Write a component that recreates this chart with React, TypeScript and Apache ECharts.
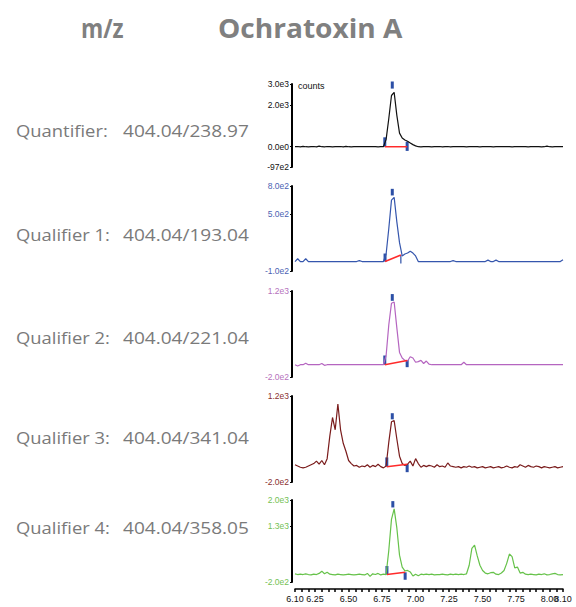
import React, { useEffect, useRef } from "react";
import * as echarts from "echarts";

// retention time grid (min)
const times = [6.10,6.12,6.14,6.16,6.18,6.20,6.22,6.24,6.26,6.28,6.30,6.32,6.34,6.36,6.38,6.40,6.42,6.44,6.46,6.48,6.50,6.52,6.54,6.56,6.58,6.60,6.62,6.64,6.66,6.68,6.70,6.72,6.74,6.76,6.78,6.80,6.82,6.84,6.86,6.88,6.90,6.92,6.94,6.96,6.98,7.00,7.02,7.04,7.06,7.08,7.10,7.12,7.14,7.16,7.18,7.20,7.22,7.24,7.26,7.28,7.30,7.32,7.34,7.36,7.38,7.40,7.42,7.44,7.46,7.48,7.50,7.52,7.54,7.56,7.58,7.60,7.62,7.64,7.66,7.68,7.70,7.72,7.74,7.76,7.78,7.80,7.82,7.84,7.86,7.88,7.90,7.92,7.94,7.96,7.98,8.00,8.02,8.04,8.06,8.08,8.10];

const quantifier = [0,10,-10,20,0,-10,0,10,-10,30, 0,-10,10,0,-10,0,0,10,-10,20, 0,-10,0,0,0,0,0,0,0,0, 0,-10,0,0,350,1350,2450,2600,1500,650, 420,320,260,180,100,40,0,-10,0,10, 0,-10,0,0,10,-10,0,10,-10,0, 0,0,0,0,-10,0,10,0,0,-10, 0,0,10,0,-10,0,0,0,10,0, 0,-10,0,0,10,0,0,-10,0,0, 10,0,-10,0,30,0,-10,0,0,10,0];
const qualifier1 = [0,30,0,0,30,0,0,0,0,0, 0,0,0,0,0,0,0,0,0,0, 0,0,0,0,10,0,0,0,0,0, 0,0,0,0,80,350,650,680,420,200, 60,80,90,110,90,60,0,0,0,0, 0,0,0,0,0,0,0,0,0,10, 0,0,0,0,0,0,0,0,0,0, 0,0,15,0,0,15,0,0,0,0, 0,0,0,0,0,0,0,0,0,0, 0,0,0,0,0,0,0,0,0,0,20];
const qualifier2 = [0,-20,0,0,25,0,0,0,0,0, 20,-10,0,0,0,0,0,0,0,0, 0,0,0,0,0,0,0,0,0,0, 0,0,0,0,150,650,1000,1020,600,200, 110,70,60,130,110,40,50,70,20,60, 10,0,0,0,0,0,0,0,0,0, 0,0,0,40,0,0,0,0,0,0, 0,0,0,0,0,0,0,0,0,0, 0,0,0,0,0,0,0,0,0,0, 0,0,0,0,0,0,0,0,0,0,0];
const qualifier3 = [80,60,40,30,40,60,80,100,140,90, 150,80,180,550,850,650,1070,650,430,300, 150,100,60,70,40,60,50,80,40,70, 50,90,50,30,60,450,780,800,500,220, 100,70,90,140,60,180,100,40,70,50, 70,60,40,80,50,60,40,110,60,50, 40,50,30,50,40,60,40,50,30,40, 50,30,40,50,30,40,50,30,40,60, 40,30,50,40,80,60,40,70,50,40, 60,50,30,50,40,30,40,50,30,40,50];
const qualifier4 = [20,0,10,0,20,0,-10,10,0,30, 90,20,60,10,0,-10,10,0,-10,0, 10,0,-10,0,10,0,-10,30,-50,20, 0,30,-10,10,0,650,1480,1760,1250,520, 200,100,110,70,-40,10,-30,10,0,10, 0,10,-10,0,0,10,0,-10,10,0, 10,0,10,0,20,250,700,790,500,250, 110,40,20,50,60,10,0,40,110,300, 550,480,180,200,40,60,10,0,10,0, -10,10,0,20,-10,0,20,30,0,-10,0];

// y-axis ranges and tick labels per trace
const yMins = [-970, -100, -200, -200, -200];
const yMaxs = [3000, 800, 1200, 1200, 2000];
const yTickValues = [[-970, 0, 2000, 3000], [-100, 500, 800], [-200, 1200], [-200, 1200], [-200, 1300, 2000]];
const yTickLabels = [["-97e2", "0.0e0", "2.0e3", "3.0e3"], ["-1.0e2", "5.0e2", "8.0e2"], ["-2.0e2", "1.2e3"], ["-2.0e2", "1.2e3"], ["-2.0e2", "1.3e3", "2.0e3"]];

// x-axis ticks
const xTickValues = [6.10,6.15,6.20,6.25,6.30,6.35,6.40,6.45,6.50,6.55,6.60,6.65,6.70,6.75,6.80,6.85,6.90,6.95,7.00,7.05,7.10,7.15,7.20,7.25,7.30,7.35,7.40,7.45,7.50,7.55,7.60,7.65,7.70,7.75,7.80,7.85,7.90,7.95,8.00,8.05,8.10];
const xLabelValues = [6.10, 6.25, 6.50, 6.75, 7.00, 7.25, 7.50, 7.75, 8.00, 8.10];

// integration markers: [time, from, to]
const apexMarks = [[6.826, 2780, 3120], [6.826, 700, 770], [6.826, 1040, 1150], [6.826, 820, 920], [6.83, 1800, 1970]];
const startMarks = [[6.77, 0, 450], [6.772, 0, 85], [6.77, 0, 150], [6.785, 50, 200], [6.786, 0, 230]];
const endMarks = [[6.937, -200, 240], [6.89, -20, 70], [6.937, -40, 77], [6.937, -40, 90], [6.922, -140, 60]];
// peak baselines: [[t0, y0], [t1, y1]]
const baselines = [
  [[6.77, 0], [6.937, 0]],
  [[6.772, 0], [6.89, 70]],
  [[6.77, 0], [6.937, 70]],
  [[6.785, 50], [6.937, 90]],
  [[6.786, 0], [6.922, 60]],
];

const traceNames = ["Quantifier:", "Qualifier 1:", "Qualifier 2:", "Qualifier 3:", "Qualifier 4:"];
const transitions = ["404.04/238.97", "404.04/193.04", "404.04/221.04", "404.04/341.04", "404.04/358.05"];
const traces = [quantifier, qualifier1, qualifier2, qualifier3, qualifier4];

const lineColors = ["#111111", "#3556ad", "#b565c0", "#7a1c1c", "#66c24a"];
const labelColors = ["#111111", "#4a63b3", "#b572bd", "#8a3030", "#74c154"];
const gridTops = [84, 186, 291, 396, 500];
const gridBottoms = [167, 271, 377, 482, 582];
const labelYs = [131, 235, 338, 438, 528];

const narrow = "'Liberation Sans Narrow', 'Arial Narrow', 'Liberation Sans', sans-serif";
const sans = "'Open Sans', 'Noto Sans', sans-serif";

export default function App() {
  const ref = useRef<HTMLDivElement>(null);
  useEffect(() => {
    if (!ref.current) return;
    const chart = echarts.init(ref.current, null, { renderer: "svg" });
    const grids: any[] = [];
    const xAxes: any[] = [];
    const yAxes: any[] = [];
    const series: any[] = [];
    const xLabel = {
      hideOverlap: false, showMinLabel: true, showMaxLabel: true, margin: 5,
      color: "#111", fontSize: 9, fontFamily: narrow,
      formatter: (v: number) => v.toFixed(2),
    };
    traces.forEach((vals, k) => {
      grids.push({ left: 295, right: 13, top: gridTops[k], height: gridBottoms[k] - gridTops[k], containLabel: false });
      const last = k === traces.length - 1;
      xAxes.push({
        type: "value", gridIndex: k, min: 6.1, max: 8.1, show: last, position: "bottom", offset: 7,
        axisLine: { show: true, onZero: false, lineStyle: { color: "#000", width: 1.5 } },
        axisTick: { show: true, customValues: xTickValues, length: 3, inside: false, lineStyle: { color: "#000", width: 1.5 } },
        axisLabel: { show: true, customValues: xLabelValues.slice(0, -1), ...xLabel },
        splitLine: { show: false },
      });
      yAxes.push({
        type: "value", gridIndex: k, min: yMins[k], max: yMaxs[k], offset: 3,
        axisLine: { show: true, onZero: false, lineStyle: { color: "#000", width: 2 } },
        axisTick: { show: true, customValues: yTickValues[k], length: 2, lineStyle: { color: "#000", width: 1 } },
        axisLabel: {
          show: true, customValues: yTickValues[k], margin: 3, color: labelColors[k], fontSize: 8.5, fontFamily: narrow,
          formatter: (v: number) => {
            const i = yTickValues[k].indexOf(v);
            return i >= 0 ? yTickLabels[k][i] : "";
          },
        },
        splitLine: { show: false },
      });
      series.push({
        type: "line", xAxisIndex: k, yAxisIndex: k, symbol: "none", clip: false,
        data: times.map((t, i) => [t, vals[i]]),
        lineStyle: { color: lineColors[k], width: 1.2 },
        silent: true,
      });
      series.push({
        type: "line", xAxisIndex: k, yAxisIndex: k, symbol: "none", clip: false,
        data: baselines[k],
        lineStyle: { color: "#ff2a2a", width: 1.5 },
        silent: true,
      });
      const marks = [
        [...apexMarks[k], 3],
        [...startMarks[k], 3],
        [...endMarks[k], k === 1 ? 1.2 : 3],
      ];
      series.push({
        type: "custom", xAxisIndex: k, yAxisIndex: k, clip: false, silent: true,
        data: marks,
        encode: { x: 0, y: [1, 2] },
        renderItem: (params: any, api: any) => {
          const a = api.coord([api.value(0), api.value(1)]);
          const b = api.coord([api.value(0), api.value(2)]);
          return {
            type: "line",
            shape: { x1: a[0], y1: a[1], x2: b[0], y2: b[1] },
            style: { stroke: "#2c4fa6", lineWidth: api.value(3) },
          };
        },
      });
    });
    // extra label-only axis on the last grid for the final (overlapping) tick label
    xAxes.push({
      type: "value", gridIndex: traces.length - 1, min: 6.1, max: 8.1, position: "bottom", offset: 7,
      axisLine: { show: false }, axisTick: { show: false }, splitLine: { show: false },
      axisLabel: { show: true, customValues: xLabelValues.slice(-1), ...xLabel },
    });

    const graphics: any[] = [
      { type: "text", x: 81, y: 28, scaleX: 0.87, style: { text: "m/z", fill: "#808080", font: `bold 26px ${sans}`, verticalAlign: "middle" } },
      { type: "text", x: 218, y: 28, scaleX: 1.08, style: { text: "Ochratoxin A", fill: "#808080", font: `bold 26px ${sans}`, verticalAlign: "middle" } },
      { type: "text", left: 298, top: 81, style: { text: "counts", fill: "#111", font: `9px ${narrow}` } },
    ];
    traceNames.forEach((n, k) => {
      graphics.push({ type: "text", x: 16, y: labelYs[k], scaleX: 1.15, style: { text: n, fill: "#7a7a7a", font: `16px ${sans}`, verticalAlign: "middle" } });
      graphics.push({ type: "text", x: 123, y: labelYs[k], scaleX: 1.19, style: { text: transitions[k], fill: "#7a7a7a", font: `16px ${sans}`, verticalAlign: "middle" } });
    });

    chart.setOption({
      animation: false,
      backgroundColor: "#ffffff",
      grid: grids,
      xAxis: xAxes,
      yAxis: yAxes,
      series,
      graphic: graphics,
    });
    return () => chart.dispose();
  }, []);
  return <div ref={ref} style={{ position: "fixed", left: 0, top: 0, width: 576, height: 607 }} />;
}
